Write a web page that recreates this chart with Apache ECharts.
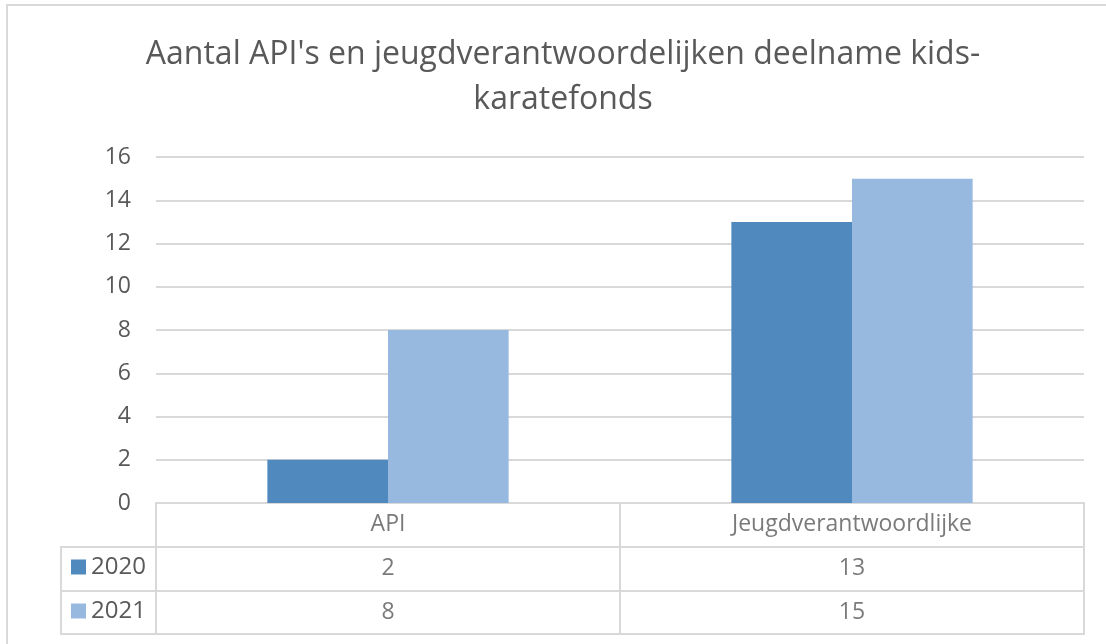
<!DOCTYPE html>
<html>
<head>
<meta charset="utf-8" />
<title>Aantal API's</title>
<script src="https://cdn.jsdelivr.net/npm/echarts@6/dist/echarts.min.js"></script>
<style>
  html, body { margin: 0; padding: 0; background: #fff; }
  #main { width: 1106px; height: 644px; }
</style>
</head>
<body>
<div id="main"></div>
<script>
// data
var categories = ['API', 'Jeugdverantwoordlijke'];
var years = ['2020', '2021'];
var values2020 = [2, 13];
var values2021 = [8, 15];
var yTicks = [0, 2, 4, 6, 8, 10, 12, 14, 16];

var grey = '#595959';
var lineGrey = '#d9d9d9';
var font = 'Open Sans';
var colors = ['#4f89bd', '#97b9df'];

// rij in de tabel als tekst via scatter
function tableRow(year, vals) {
  return vals.map(function (v, i) { return [categories[i], year, v]; });
}

var chart = echarts.init(document.getElementById('main'));
chart.setOption({
  animation: false,
  textStyle: { fontFamily: font },
  title: {
    text: "Aantal API's en jeugdverantwoordelijken deelname kids-\nkaratefonds",
    left: 563,
    top: 32,
    padding: 0,
    textAlign: 'center',
    textStyle: { color: grey, fontSize: 32, fontWeight: 'normal', lineHeight: 45, fontFamily: font }
  },
  legend: {
    data: years,
    orient: 'vertical',
    left: 66,
    top: 550,
    itemWidth: 15,
    itemHeight: 15,
    itemGap: 20,
    icon: 'rect',
    selectedMode: false,
    textStyle: { color: grey, fontSize: 24 }
  },
  graphic: [{
    type: 'rect',
    shape: { x: 7, y: 5, width: 1200, height: 700 },
    style: { fill: 'none', stroke: lineGrey, lineWidth: 2 },
    silent: true
  }],
  grid: [
    { left: 156, right: 22, top: 157, bottom: 141 },
    { left: 156, right: 22, top: 503, bottom: 10, show: true, borderColor: lineGrey, borderWidth: 2 },
    { left: 61, right: 950, top: 547, bottom: 10, show: true, borderColor: lineGrey, borderWidth: 2 }
  ],
  xAxis: [
    {
      type: 'category', gridIndex: 0, data: categories,
      axisLine: { show: false },
      axisTick: { show: false },
      axisLabel: { show: false }
    },
    {
      type: 'category', gridIndex: 1, data: categories,
      axisLine: { show: false },
      axisTick: { show: false },
      axisLabel: { show: false },
      splitLine: { show: true, interval: 0, lineStyle: { color: lineGrey, width: 2 } }
    },
    { type: 'value', gridIndex: 2, show: false }
  ],
  yAxis: [
    {
      type: 'value', gridIndex: 0, min: 0, max: 16, interval: 2,
      axisLine: { show: false },
      axisTick: { show: false },
      axisLabel: { color: grey, fontSize: 23, margin: 25 },
      splitLine: { lineStyle: { color: lineGrey, width: 2 } }
    },
    {
      type: 'category', gridIndex: 1, data: ['cat'].concat(years), inverse: true,
      axisLine: { show: false },
      axisTick: { show: false },
      axisLabel: { show: false },
      splitLine: { show: true, interval: 0, lineStyle: { color: lineGrey, width: 2 } }
    },
    {
      type: 'category', gridIndex: 2, data: years, inverse: true,
      axisLine: { show: false },
      axisTick: { show: false },
      axisLabel: { show: false },
      splitLine: { show: true, interval: 0, lineStyle: { color: lineGrey, width: 2 } }
    }
  ],
  series: [
    {
      name: '2020', type: 'bar', data: values2020,
      barGap: '0%', barCategoryGap: '48%',
      itemStyle: { color: colors[0] }
    },
    {
      name: '2021', type: 'bar', data: values2021,
      itemStyle: { color: colors[1] }
    },
    {
      name: 'kop', type: 'scatter', xAxisIndex: 1, yAxisIndex: 1, symbolSize: 0,
      data: categories.map(function (c) { return [c, 'cat', c]; }),
      label: { show: true, position: 'inside', color: grey, fontSize: 23,
        formatter: function (p) { return p.value[2]; } }
    },
    {
      name: 'tabel2020', type: 'scatter', xAxisIndex: 1, yAxisIndex: 1, symbolSize: 0,
      data: tableRow('2020', values2020),
      label: { show: true, position: 'inside', color: grey, fontSize: 23,
        formatter: function (p) { return p.value[2]; } }
    },
    {
      name: 'tabel2021', type: 'scatter', xAxisIndex: 1, yAxisIndex: 1, symbolSize: 0,
      data: tableRow('2021', values2021),
      label: { show: true, position: 'inside', color: grey, fontSize: 23,
        formatter: function (p) { return p.value[2]; } }
    }
  ]
});
</script>
</body>
</html>
